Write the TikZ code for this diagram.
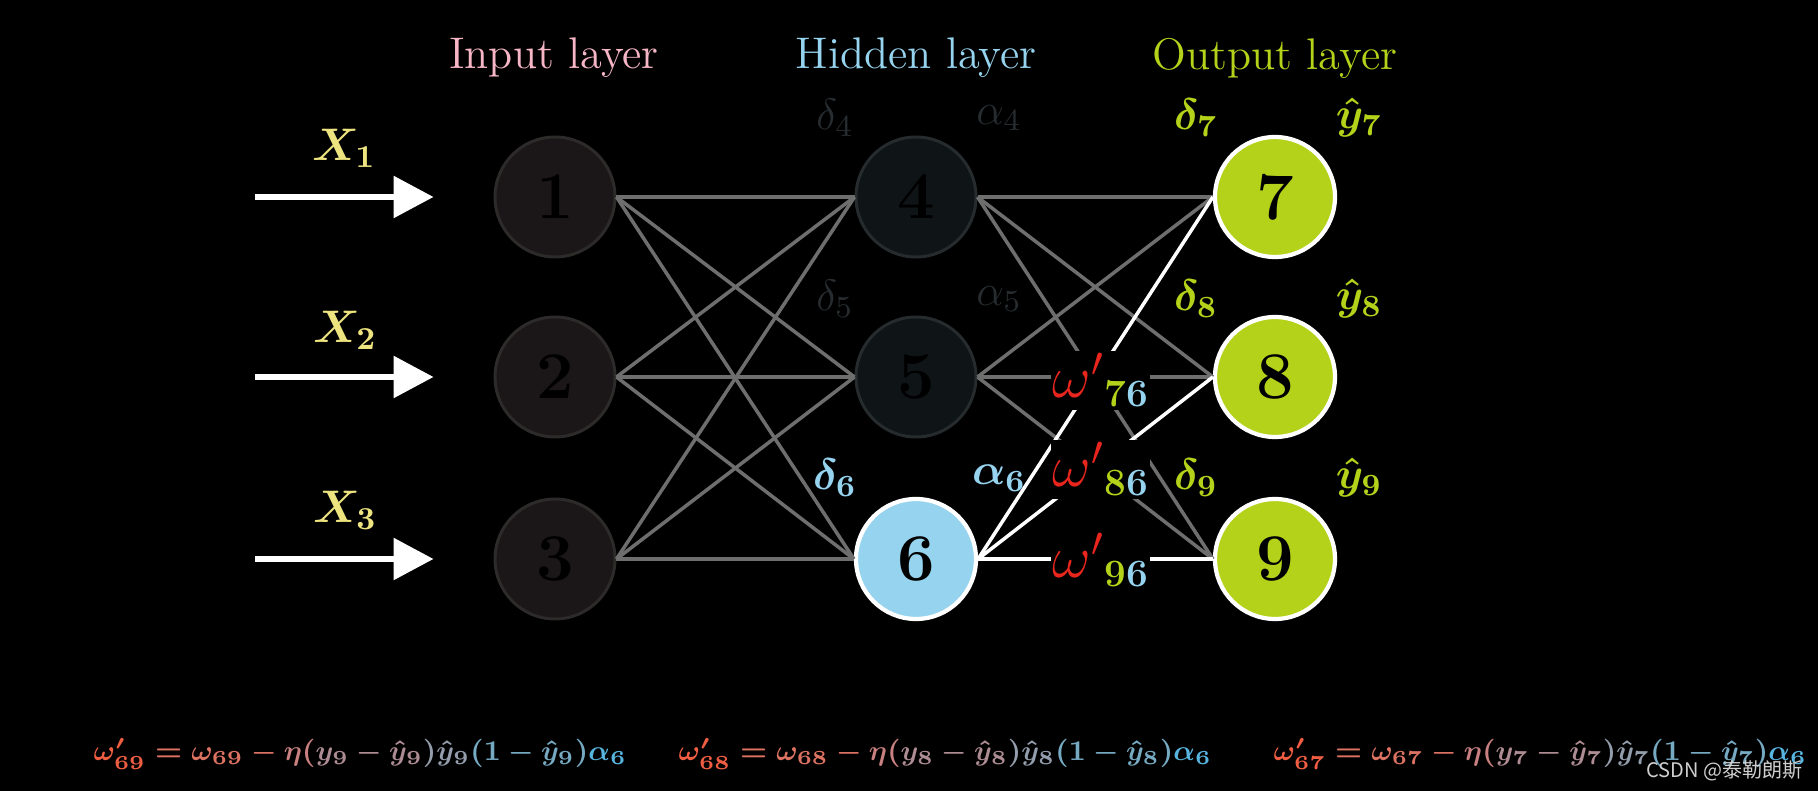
\RequirePackage{fix-cm}
\documentclass[tikz,border=0pt]{standalone}
\usepackage{fontspec}
\usepackage{amsmath}
\usepackage{xcolor}
\definecolor{inpink}{HTML}{F7B6C5}
\definecolor{hidblue}{HTML}{95D3EE}
\definecolor{outgreen}{HTML}{B4D21A}
\definecolor{xyellow}{HTML}{EDE37F}
\definecolor{edgegray}{HTML}{6E6E6E}
\definecolor{dimtext}{HTML}{262C2F}
\definecolor{infill}{HTML}{1B1617}
\definecolor{inborder}{HTML}{2D2A2A}
\definecolor{hidfill}{HTML}{0F1416}
\definecolor{hidborder}{HTML}{262B2E}
\definecolor{wred}{HTML}{E8261E}
\definecolor{wmgray}{HTML}{CFCFCF}
\definecolor{fa}{HTML}{EF5E43}
\definecolor{fb}{HTML}{DC7262}
\definecolor{fc}{HTML}{C98080}
\definecolor{fd}{HTML}{AE8C93}
\definecolor{fe}{HTML}{939DAB}
\definecolor{ff}{HTML}{76AAC3}
\definecolor{fg}{HTML}{58B5DF}
\newfontfamily\cjk{Noto Sans CJK SC}
\usetikzlibrary{arrows.meta}
\newcommand{\wupdate}[1]{\color{fa}\omega'_{6#1}\color{fb}=\omega_{6#1}-\color{fc}\eta(\color{fd}y_{#1}-\hat{y}_{#1}\color{fe})\hat{y}_{#1}\color{ff}(1-\hat{y}_{#1})\color{fg}\alpha_6}
\begin{document}
\begin{tikzpicture}[
    neuron/.style={circle, minimum size=1.2cm, inner sep=0pt, line width=0.85pt, text=black, font=\fontsize{19}{19}\selectfont\bfseries},
    inneuron/.style={neuron, draw=inborder, fill=infill},
    hidneuron/.style={neuron, draw=hidborder, fill=hidfill},
    hotneuron/.style={neuron, draw=white, line width=1.2pt},
    edge/.style={edgegray, line width=1pt},
    hotedge/.style={white, line width=1pt},
    inarrow/.style={white, line width=1.7pt, -{Triangle[length=4mm,width=4.1mm]}},
    layertitle/.style={font=\fontsize{12.6}{14}\selectfont},
    xlab/.style={xyellow, font=\fontsize{13}{14}\selectfont\boldmath},
    dimlab/.style={dimtext, font=\fontsize{12.5}{14}\selectfont},
    lab/.style={font=\fontsize{12.5}{14}\selectfont\boldmath},
    wlab/.style={fill=black, inner sep=0.6pt, anchor=base west},
    formula/.style={anchor=west, inner sep=0pt, font=\fontsize{8.1}{10}\selectfont\boldmath}
  ]
  \fill[black] (0,0) rectangle (18.18,7.91);
  \useasboundingbox (0,0) rectangle (18.18,7.91);

  % layer titles
  \node[layertitle, inpink] (tin) at (5.54,7.33) {Input layer};
  \node[layertitle, hidblue] (thid) at (9.16,7.33) {Hidden layer};
  \node[layertitle, outgreen] (tout) at (12.75,7.33) {Output layer};

  % neurons
  \node[inneuron] (n1) at (5.55,5.94) {1};
  \node[inneuron] (n2) at (5.55,4.14) {2};
  \node[inneuron] (n3) at (5.55,2.32) {3};
  \node[hidneuron] (n4) at (9.16,5.94) {4};
  \node[hidneuron] (n5) at (9.16,4.14) {5};
  \node[hotneuron, fill=hidblue] (n6) at (9.16,2.32) {6};
  \node[hotneuron, fill=outgreen] (n7) at (12.75,5.94) {7};
  \node[hotneuron, fill=outgreen] (n8) at (12.75,4.14) {8};
  \node[hotneuron, fill=outgreen] (n9) at (12.75,2.32) {9};

  % weights
  \foreach \i in {1,2,3}
    \foreach \j in {4,5,6}
      \draw[edge] (n\i.east) -- (n\j.west);
  \foreach \i in {4,5}
    \foreach \j in {7,8,9}
      \draw[edge] (n\i.east) -- (n\j.west);
  \foreach \j in {7,8,9}
    \draw[hotedge] (n6.east) -- (n\j.west);

  % inputs
  \foreach \k/\y in {1/5.94,2/4.14,3/2.32}{
    \coordinate (a\k) at (2.55,\y);
    \draw[inarrow] (a\k) -- ([xshift=-6mm]n\k.west);
  }
  \node[xlab] (x1) at (3.44,6.43) {$X_1$};
  \node[xlab] (x2) at (3.45,4.61) {$X_2$};
  \node[xlab] (x3) at (3.45,2.81) {$X_3$};

  % deltas and activations
  \node[dimlab] (d4) at (8.35,6.73) {$\delta_4$};
  \node[dimlab] (a4) at (9.99,6.73) {$\alpha_4$};
  \node[dimlab] (d5) at (8.35,4.92) {$\delta_5$};
  \node[dimlab] (a5) at (9.99,4.92) {$\alpha_5$};
  \node[lab, hidblue] (d6) at (8.35,3.13) {$\delta_6$};
  \node[lab, hidblue] (a6) at (9.99,3.13) {$\alpha_6$};
  \node[lab, outgreen] (d7) at (11.96,6.73) {$\delta_7$};
  \node[lab, outgreen] (y7) at (13.59,6.73) {$\hat{y}_7$};
  \node[lab, outgreen] (d8) at (11.96,4.92) {$\delta_8$};
  \node[lab, outgreen] (y8) at (13.59,4.92) {$\hat{y}_8$};
  \node[lab, outgreen] (d9) at (11.96,3.13) {$\delta_9$};
  \node[lab, outgreen] (y9) at (13.59,3.13) {$\hat{y}_9$};

  % updated weights
  \foreach \j/\y in {7/3.93,8/3.04,9/2.13}
    \node[wlab] (w\j6) at (10.50,\y) {\fontsize{17}{17}\selectfont\textcolor{wred}{$\omega'$}\raisebox{-0.09cm}{\fontsize{11}{11}\selectfont\bfseries\textcolor{outgreen}{\j}\textcolor{hidblue}{6}}};

  % update rules
  \node[formula] (f9) at (0.93,0.37) {$\wupdate{9}$};
  \node[formula] (f8) at (6.78,0.37) {$\wupdate{8}$};
  \node[formula] (f7) at (12.73,0.37) {$\wupdate{7}$};

  \node[anchor=east, inner sep=0pt, text=wmgray, font=\cjk\fontsize{5.7}{6}\selectfont] (wm) at (18.03,0.20) {CSDN @泰勒朗斯};
\end{tikzpicture}
\end{document}
